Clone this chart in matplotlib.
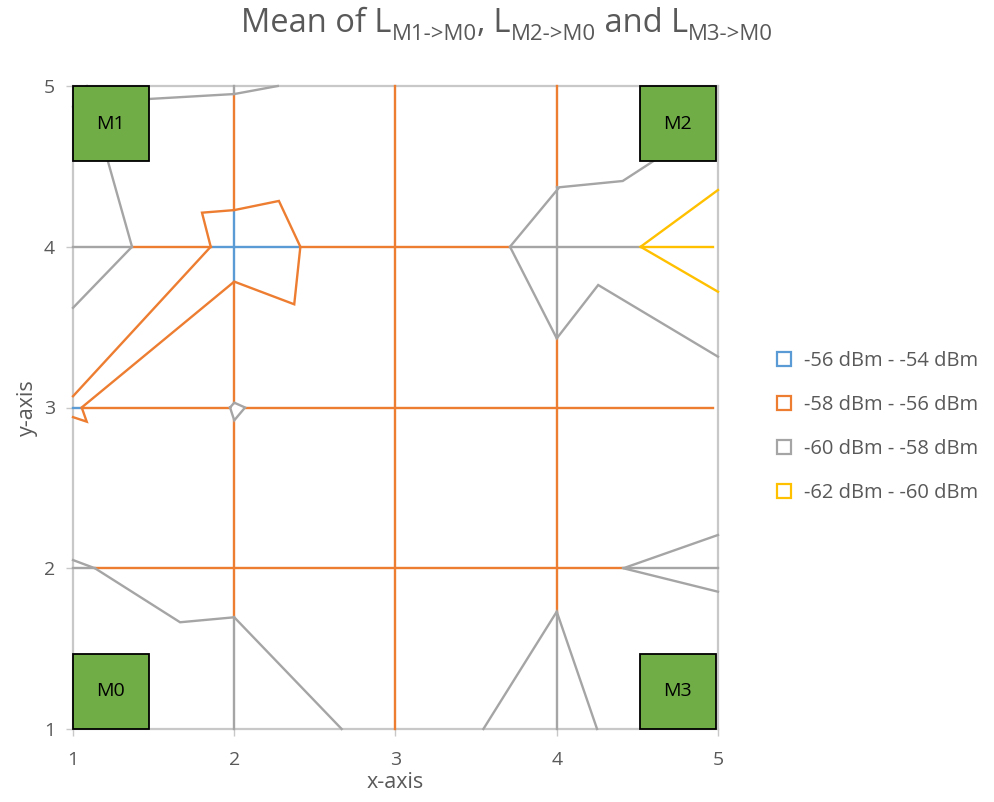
import matplotlib.pyplot as plt
from matplotlib.lines import Line2D
from matplotlib.patches import Rectangle

plt.rcParams['font.family'] = ['Open Sans', 'DejaVu Sans']

# contour bands (Excel wireframe contour), each a list of polylines (xs, ys)
band_labels = ['-56 dBm - -54 dBm', '-58 dBm - -56 dBm', '-60 dBm - -58 dBm', '-62 dBm - -60 dBm']
band_colors = ['#5B9BD5', '#ED7D31', '#A5A5A5', '#FFC000']

blue_lines = [
    ([1.854, 2.41], [4, 4]),
    ([2, 2], [3.783, 4.228]),
    ([1, 1.054], [3, 3]),
]
orange_lines = [
    ([1, 1.854, 1.80, 2, 2.277, 2.41, 2.372, 2, 1.054, 1.085, 1],
     [3.07, 4, 4.212, 4.228, 4.285, 4, 3.642, 3.783, 3.0, 2.912, 2.94]),
    ([1.366, 1.854], [4, 4]),
    ([2.41, 3.71], [4, 4]),
    ([1.054, 1.974], [3, 3]),
    ([2.067, 4.97], [3, 3]),
    ([1.136, 4.413], [2, 2]),
    ([2, 2], [4.228, 4.95]),
    ([2, 2], [3.03, 3.783]),
    ([2, 2], [1.695, 2.92]),
    ([3, 3], [1, 5]),
    ([4, 4], [4.37, 5]),
    ([4, 4], [1.73, 3.43]),
]
gray_lines = [
    ([1, 1.465, 2, 2.27], [4.87, 4.919, 4.95, 5]),
    ([1.085, 1.217, 1.366, 1], [5, 4.53, 4, 3.62]),
    ([1.974, 2, 2.067, 2, 1.974], [3.0, 3.03, 3.0, 2.92, 3.0]),
    ([4.7, 4.578, 4.409, 4.016, 3.71, 4.0, 4.257, 5], [4.6, 4.519, 4.409, 4.37, 4, 3.43, 3.762, 3.316]),
    ([5, 4.413, 5], [2.207, 2.0, 1.854]),
    ([3.545, 4.0, 4.25], [1, 1.73, 1]),
    ([1, 1.136, 1.664, 2.0, 2.666], [2.051, 2.0, 1.664, 1.695, 1]),
    ([1, 1.366], [4, 4]),
    ([3.71, 4.52], [4, 4]),
    ([1, 1.136], [2, 2]),
    ([4.413, 5], [2, 2]),
    ([2, 2], [4.95, 5]),
    ([2, 2], [1, 1.695]),
    ([4, 4], [3.43, 4.37]),
    ([4, 4], [1, 1.73]),
]
yellow_lines = [
    ([5, 4.52, 5], [4.353, 4, 3.72]),
    ([4.52, 4.97], [4, 4]),
]
bands = [blue_lines, orange_lines, gray_lines, yellow_lines]

# node boxes
node_names = ['M0', 'M1', 'M2', 'M3']
node_x = [1.0, 1.0, 4.516, 4.516]
node_y = [1.0, 4.533, 4.533, 1.0]
box_w = 0.47
box_h = 0.467

ticks = [1, 2, 3, 4, 5]
text_col = '#595959'

fig = plt.figure(figsize=(9.95, 8.02), dpi=100)
ax = fig.add_axes([73 / 995, 73 / 802, 645 / 995, 643 / 802])
ax.set_xlim(1, 5)
ax.set_ylim(1, 5)

for spine in ax.spines.values():
    spine.set_color('#C8C8C8')
    spine.set_linewidth(1.6)

for lines, col in zip(bands, band_colors):
    for xs, ys in lines:
        ax.plot(xs, ys, color=col, lw=1.7, solid_joinstyle='miter', clip_on=False, zorder=3)

for name, bx, by in zip(node_names, node_x, node_y):
    ax.add_patch(Rectangle((bx, by), box_w, box_h, facecolor='#70AD47', edgecolor='black',
                           lw=1.3, zorder=5, clip_on=False))
    ax.text(bx + box_w / 2, by + box_h / 2, name, ha='center', va='center', fontsize=14,
            color='black', zorder=6)

ax.set_xticks(ticks)
ax.set_yticks(ticks)
ax.set_xticklabels([str(t) for t in ticks])
ax.set_yticklabels([str(t) for t in ticks])
ax.tick_params(axis='both', direction='out', length=5, width=1, color='#C8C8C8',
               labelcolor=text_col, labelsize=14)
ax.tick_params(axis='x', pad=11)
ax.tick_params(axis='y', pad=8)
ax.set_xlabel('x-axis', fontsize=15.5, color=text_col, labelpad=2)
ax.set_ylabel('y-axis', fontsize=15.5, color=text_col, labelpad=4)

handles = [Line2D([], [], linestyle='none', marker='s', markersize=10, markerfacecolor='white',
                  markeredgecolor=c, markeredgewidth=1.6) for c in band_colors]
fig.legend(handles, band_labels, loc='center left', bbox_to_anchor=(754 / 995, 375 / 802),
           frameon=False, fontsize=14.5, labelcolor=text_col, labelspacing=1.2,
           handletextpad=0.4, handlelength=1.2)

# title with subscripts, pieces placed left to right
fig.canvas.draw()
r = fig.canvas.get_renderer()
W, H = fig.bbox.width, fig.bbox.height
pieces = [('Mean of L', 23.5, 0), ('M1->M0', 16, -8), (',', 23.5, 0), (' L', 23.5, 0),
          ('M2->M0', 16, -8), (' and L', 23.5, 0), ('M3->M0', 16, -8)]
base_y = 802 - 32
x = 0
objs = []
for txt, size, dy in pieces:
    t = fig.text(x / W, (base_y + dy) / H, txt, fontsize=size, color=text_col,
                 ha='left', va='baseline')
    w = t.get_window_extent(renderer=r).width
    objs.append((t, x, dy))
    x += w
total = x
start = 507 - total / 2
for t, px, dy in objs:
    t.set_x((start + px) / W)

fig.savefig('out.png', dpi=100)
